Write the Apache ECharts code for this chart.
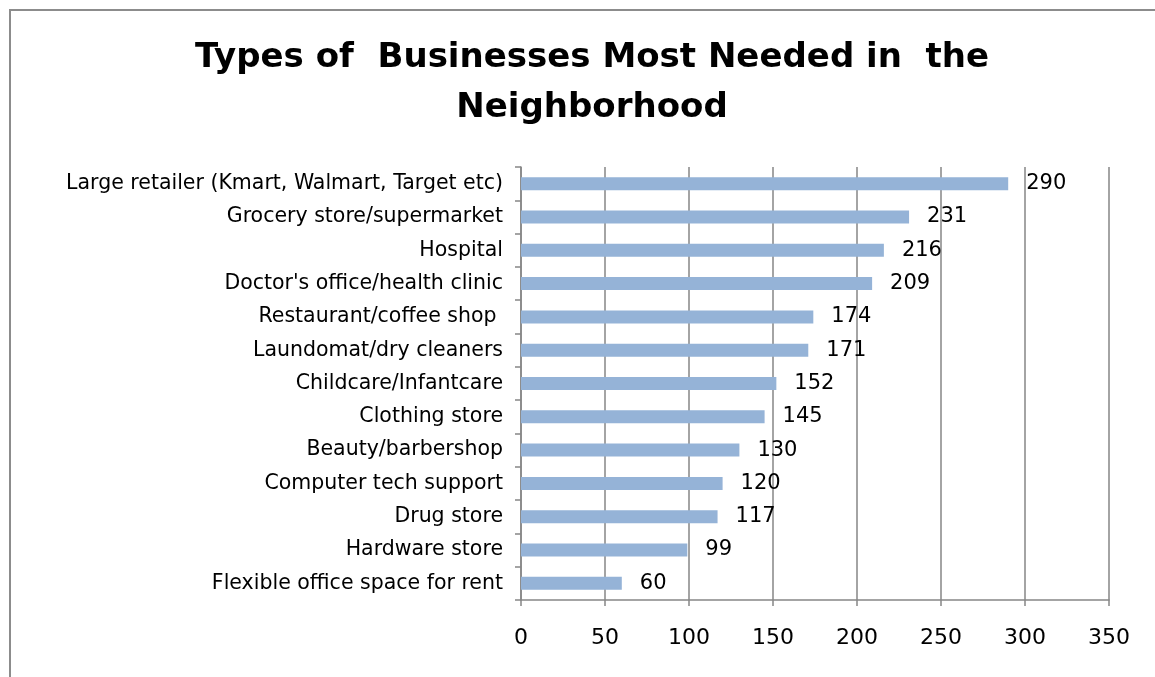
<!DOCTYPE html>
<html>
<head>
<meta charset="utf-8">
<script src="https://cdn.jsdelivr.net/npm/echarts@6/dist/echarts.min.js"></script>
<style>
  html, body { margin: 0; padding: 0; background: #fff; }
  #chart { width: 1155px; height: 677px; }
</style>
</head>
<body>
<div id="chart"></div>
<script>
// Survey results: business types residents say the neighborhood needs most
const categories = [
  'Large retailer (Kmart, Walmart, Target etc)',
  'Grocery store/supermarket',
  'Hospital',
  "Doctor's office/health clinic",
  'Restaurant/coffee shop ',
  'Laundomat/dry cleaners',
  'Childcare/Infantcare',
  'Clothing store',
  'Beauty/barbershop',
  'Computer tech support',
  'Drug store',
  'Hardware store',
  'Flexible office space for rent'
];
const responses = [290, 231, 216, 209, 174, 171, 152, 145, 130, 120, 117, 99, 60];
const titleText = 'Types of  Businesses Most Needed in  the\nNeighborhood';

const FONT = '"DejaVu Sans", sans-serif';
const GRID_COLOR = '#868686';

const chart = echarts.init(document.getElementById('chart'), null, { renderer: 'canvas' });
chart.setOption({
  backgroundColor: '#ffffff',
  animation: false,
  title: {
    text: titleText,
    left: 587,
    top: 28,
    textAlign: 'center',
    textStyle: {
      fontFamily: FONT,
      fontWeight: 'bold',
      fontSize: 34,
      lineHeight: 50,
      color: '#000'
    }
  },
  graphic: [{
    type: 'rect',
    shape: { x: 10, y: 10, width: 1200, height: 700 },
    style: { fill: 'none', stroke: '#8c8c8c', lineWidth: 2 },
    silent: true
  }],
  grid: { left: 521, right: 46, top: 167, bottom: 77 },
  xAxis: {
    type: 'value',
    min: 0,
    max: 350,
    interval: 50,
    axisLine: { show: true, lineStyle: { color: GRID_COLOR, width: 1.5 } },
    axisTick: { show: true, length: 6, lineStyle: { color: GRID_COLOR, width: 1.5 } },
    splitLine: { show: true, lineStyle: { color: GRID_COLOR, width: 1.5 } },
    axisLabel: { fontFamily: FONT, fontSize: 22, color: '#000', margin: 27 }
  },
  yAxis: {
    type: 'category',
    data: categories,
    inverse: true,
    axisLine: { show: true, lineStyle: { color: GRID_COLOR, width: 1.5 } },
    axisTick: { show: true, length: 6, lineStyle: { color: GRID_COLOR, width: 1.5 } },
    axisLabel: { fontFamily: FONT, fontSize: 20.5, color: '#000', margin: 18 }
  },
  series: [{
    type: 'bar',
    data: responses,
    barWidth: 13,
    itemStyle: { color: '#95B3D7' },
    label: {
      show: true,
      position: 'right',
      distance: 18,
      fontFamily: FONT,
      fontSize: 21,
      color: '#000'
    }
  }]
});
</script>
</body>
</html>
